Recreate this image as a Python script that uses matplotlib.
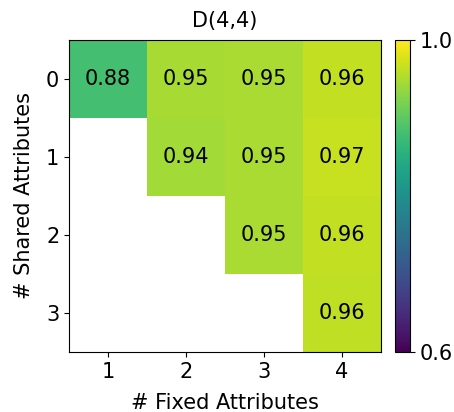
import matplotlib
matplotlib.use("Agg")
import matplotlib.pyplot as plt
import numpy as np

fixed_attrs = [1, 2, 3, 4]
shared_attrs = [0, 1, 2, 3]
row0 = [0.88, 0.948, 0.95, 0.963]
row1 = [np.nan, 0.944, 0.95, 0.966]
row2 = [np.nan, np.nan, 0.95, 0.963]
row3 = [np.nan, np.nan, np.nan, 0.962]

plt.rcParams["font.size"] = 15

grid = np.ma.masked_invalid(np.array([row0, row1, row2, row3]))

fig = plt.figure(figsize=(4.54, 4.12), dpi=100)
ax = fig.add_axes([0.152, 0.146, 0.687, 0.757])
cax = fig.add_axes([0.870, 0.146, 0.033, 0.757])

im = ax.imshow(grid, cmap="viridis", vmin=0.6, vmax=1.0, aspect="auto")
for i in range(len(shared_attrs)):
    for j in range(len(fixed_attrs)):
        if not np.ma.is_masked(grid[i, j]):
            ax.text(j, i, f"{grid[i, j]:.2f}", ha="center", va="center",
                    fontsize=15, color="black")

ax.set_xticks(range(len(fixed_attrs)))
ax.set_xticklabels(fixed_attrs)
ax.set_yticks(range(len(shared_attrs)))
ax.set_yticklabels(shared_attrs)
ax.set_xlabel("# Fixed Attributes", labelpad=8)
ax.set_ylabel("# Shared Attributes", labelpad=9)
ax.set_title("D(4,4)", fontsize=15, pad=9)

cb = fig.colorbar(im, cax=cax, ticks=[0.6, 1.0])
cb.ax.set_yticklabels(["0.6", "1.0"])

fig.savefig("out.png", dpi=100)
